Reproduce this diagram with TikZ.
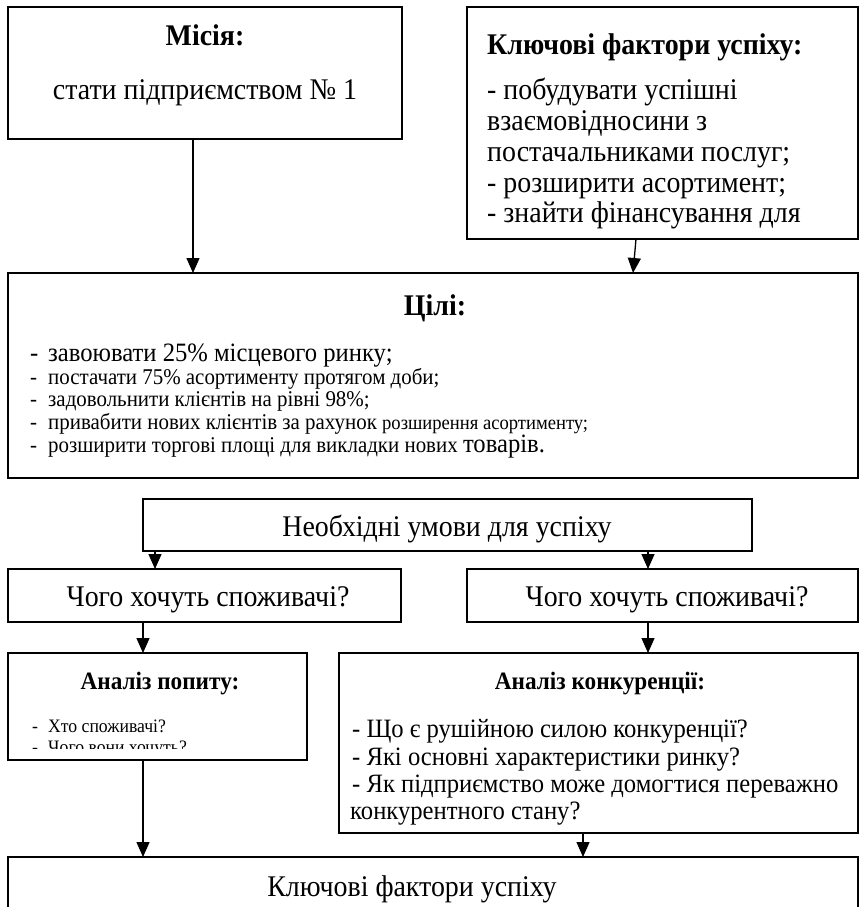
\documentclass[tikz,border=0pt]{standalone}
\usepackage{fontspec}
\setmainfont[FakeStretch=0.93]{Liberation Serif}
\usetikzlibrary{arrows.meta}

\tikzset{
  box/.style={draw, line width=1.6pt, anchor=north west, inner sep=0pt, outer sep=0pt},
  arr/.style={line width=1.3pt, -{Triangle[width=13pt,length=15pt]}},
  lbl/.style={inner sep=0pt, anchor=base},
  lblw/.style={inner sep=0pt, anchor=base west},
  big/.style={font=\fontsize{30}{31}\selectfont},
  bigb/.style={font=\bfseries\fontsize{30}{31}\selectfont},
  midb/.style={font=\bfseries\fontsize{25}{27}\selectfont},
  cmp/.style={font=\fontsize{26.5}{27}\selectfont},
  goalbig/.style={font=\fontsize{26.5}{26}\selectfont},
  goalmid/.style={font=\fontsize{22.5}{24}\selectfont},
}
\newcommand{\dashitem}[1]{\makebox[18pt][l]{-}#1}

\begin{document}
\begin{tikzpicture}[x=1pt,y=-1pt]
\clip (0,0) rectangle (861,907);
\fill[white] (0,0) rectangle (861,907);

% --- upper row: mission and key success factors
\node[box, minimum width=394pt, minimum height=132pt] (mission) at (8,7) {};
\node[lbl, bigb] (missiontitle) at (205,46) {Місія:};
\node[lbl, big] (missiontext) at (205,99) {стати підприємством №~1};

\node[box, minimum width=391pt, minimum height=232pt] (kf) at (467,7) {};
\node[lblw, bigb] (kftitle) at (487,55) {Ключові фактори успіху:};
\node[lblw, big] (kf1) at (487,99) {- побудувати успішні};
\node[lblw, big] (kf2) at (487,130) {взаємовідносини з};
\node[lblw, big] (kf3) at (487,161) {постачальниками послуг;};
\node[lblw, big] (kf4) at (487,192) {- розширити асортимент;};
\node[lblw, big] (kf5) at (487,222) {- знайти фінансування для};

% --- goals
\node[box, minimum width=850pt, minimum height=205pt] (goals) at (8,273) {};
\node[lbl, bigb] (goalstitle) at (435,315) {Цілі:};
\node[lblw, goalbig] (g1) at (30,361)
  {\dashitem{завоювати 25\% місцевого ринку;}};
\node[lblw, goalmid] (g2) at (30,384)
  {\dashitem{постачати 75\% асортименту протягом доби;}};
\node[lblw, goalmid] (g3) at (30,406)
  {\dashitem{задовольнити клієнтів на рівні 98\%;}};
\node[lblw, goalmid] (g4) at (30,429)
  {\dashitem{привабити нових клієнтів за рахунок {\fontsize{20}{20}\selectfont розширення асортименту;}}};
\node[lblw, goalmid] (g5) at (30,452)
  {\dashitem{розширити торгові площі для викладки нових {\fontsize{26.5}{26}\selectfont товарів.}}};

% --- necessary conditions
\node[box, minimum width=609pt, minimum height=52pt] (nc) at (143,499) {};
\node[lbl, big] (nctext) at (447,536) {Необхідні умови для успіху};

\node[box, minimum width=393pt, minimum height=53pt] (want1) at (8,569) {};
\node[lbl, big] (want1text) at (208,606) {Чого хочуть споживачі?};
\node[box, minimum width=391pt, minimum height=53pt] (want2) at (467,569) {};
\node[lbl, big] (want2text) at (667,606) {Чого хочуть споживачі?};

% --- analyses
\node[box, minimum width=299pt, minimum height=107pt] (demand) at (8,653) {};
\node[lbl, midb] (demandtitle) at (160,689) {Аналіз попиту:};
\begin{scope}
  \clip (10,655) rectangle (305,748);
  \node[lblw, font=\fontsize{19}{20}\selectfont] (d1) at (32,732) {\makebox[16pt][l]{-}Хто споживачі?};
  \node[lblw, font=\fontsize{19}{20}\selectfont] (d2) at (32,753) {\makebox[16pt][l]{-}Чого вони хочуть?};
\end{scope}

\node[box, minimum width=519pt, minimum height=180pt] (comp) at (339,653) {};
\node[lbl, midb] (comptitle) at (600,689) {Аналіз конкуренції:};
\node[lblw, cmp] (c1) at (352,737) {- Що є рушійною силою конкуренції?};
\node[lblw, cmp] (c2) at (352,765) {- Які основні характеристики ринку?};
\node[lblw, cmp] (c3) at (352,792) {- Як підприємство може домогтися переважно};
\node[lblw, cmp] (c4) at (350,819) {конкурентного стану?};

% --- resulting key success factors
\node[box, minimum width=850pt, minimum height=90pt] (kfs) at (8,857) {};
\node[lbl, big] (kfstext) at (412,896) {Ключові фактори успіху};

% --- connectors
\draw[arr] ([xshift=185pt]mission.south west) -- ([xshift=185pt]goals.north west);
\draw[arr] ([xshift=169pt]kf.south west) -- ([xshift=625pt]goals.north west);
\draw[arr] ([xshift=12pt]nc.south west) -- ([xshift=147pt]want1.north west);
\draw[arr] ([xshift=505pt]nc.south west) -- ([xshift=181pt]want2.north west);
\draw[arr] ([xshift=135pt]want1.south west) -- ([xshift=135pt]demand.north west);
\draw[arr] ([xshift=181pt]want2.south west) -- ([xshift=309pt]comp.north west);
\draw[arr] ([xshift=135pt]demand.south west) -- ([xshift=135pt]kfs.north west);
\draw[arr] ([xshift=244pt]comp.south west) -- ([xshift=575pt]kfs.north west);
\end{tikzpicture}
\end{document}
